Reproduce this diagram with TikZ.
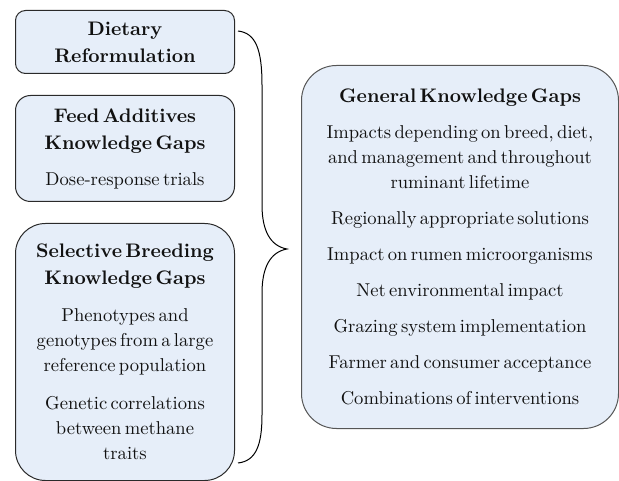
\documentclass[tikz,border=0pt]{standalone}
\usepackage{fontspec}
\setmainfont{lmroman10-regular.otf}[BoldFont=lmroman10-bold.otf]
\definecolor{boxfill}{HTML}{E6EEF9}
\definecolor{boxline}{HTML}{2A2A2A}
\definecolor{bigline}{HTML}{555555}
\definecolor{txt}{HTML}{111111}
\newcommand\gtitle[1]{{\fontsize{19.6}{27}\selectfont\bfseries #1\par}}
\newcommand\gitem[2][11pt]{\vspace{#1}{\fontsize{18.6}{25}\selectfont #2\par}}
\begin{document}
\begin{tikzpicture}[x=1pt,y=-1pt,
  gapbox/.style={draw=boxline, fill=boxfill, line width=1pt, align=center,
    anchor=north west, inner xsep=8pt, inner ysep=0pt, text=txt},
  bracestyle/.style={draw=black, line width=1pt}]
\useasboundingbox (0,0) rectangle (619,481);
\node[gapbox, rounded corners=10pt, text width=203pt, minimum height=63pt] (diet) at (15,10)
  {\gtitle{Dietary\\Reformulation}};
\node[gapbox, rounded corners=15pt, text width=203pt, minimum height=106pt] (feed) at (15,95)
  {\gtitle{Feed Additives\\Knowledge Gaps}\gitem{Dose-response trials}};
\node[gapbox, rounded corners=30pt, text width=203pt, minimum height=257pt] (breed) at (15,223)
  {\gtitle{Selective Breeding\\Knowledge Gaps}%
   \gitem[12pt]{Phenotypes and\\genotypes from a large\\reference population}%
   \gitem[13pt]{Genetic correlations\\between methane\\traits}};
\node[gapbox, draw=bigline, rounded corners=35pt, text width=301pt, minimum height=363pt] (general) at (301,65)
  {\gtitle{General Knowledge Gaps}%
   \gitem{Impacts depending on breed, diet,\\and management and throughout\\ruminant lifetime}%
   \gitem{Regionally appropriate solutions}%
   \gitem{Impact on rumen microorganisms}%
   \gitem{Net environmental impact}%
   \gitem{Grazing system implementation}%
   \gitem{Farmer and consumer acceptance}%
   \gitem{Combinations of interventions}};
\coordinate (bt) at (238,31);
\coordinate (bb) at (238,463);
\coordinate (tip) at (287,249);
\draw[bracestyle] (bt) .. controls (256,33) and (262,50) .. (262,85) -- (262,205)
  .. controls (262,230) and (270,246) .. (tip)
  .. controls (270,252) and (262,268) .. (262,293) -- (262,415)
  .. controls (262,445) and (256,461) .. (bb);
\end{tikzpicture}
\end{document}
